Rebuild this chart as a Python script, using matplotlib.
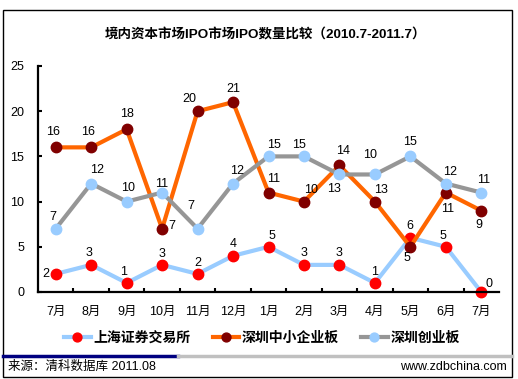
import numpy as np
import matplotlib
matplotlib.use('Agg')
import matplotlib.pyplot as plt
import matplotlib.lines as mlines
import matplotlib.patches as mpatches

plt.rcParams['font.family'] = ['Liberation Sans', 'Noto Sans CJK SC', 'DejaVu Sans']

# ---- data
months = ['7月', '8月', '9月', '10月', '11月', '12月', '1月', '2月', '3月', '4月', '5月', '6月', '7月']
sh_main = [2, 3, 1, 3, 2, 4, 5, 3, 3, 1, 6, 5, 0]
sz_sme = [16, 16, 18, 7, 20, 21, 11, 10, 14, 10, 5, 11, 9]
sz_gem = [7, 12, 10, 11, 7, 12, 15, 15, 13, 13, 15, 12, 11]
names = ['上海证券交易所', '深圳中小企业板', '深圳创业板']
title = '境内资本市场IPO市场IPO数量比较（2010.7-2011.7）'
source = '来源：清科数据库 2011.08'
site = 'www.zdbchina.com'

# label offsets in pixels (dx, dy)
off_sh = [(-10, 0), (-2, 12), (-3, 11), (0, 11), (0, 11), (0, 12), (3, 11),
          (0, 12), (0, 12), (0, 11), (0, 12), (-3, 11), (8, 8)]
off_sme = [(-3, 15), (-3, 15), (0, 15), (10, 3), (-8, 12), (0, 13), (5, 14),
           (7, 12), (4, 14), (-5, 47), (-3, -11), (2, -16), (-2, -14)]
off_gem = [(-3, 12), (6, 14), (1, 14), (0, 9), (-7, 23), (4, 13), (5, 11),
           (-5, 11), (-5, -15), (6, -16), (0, 14), (4, 12), (2, 13)]

W, H = 518, 379
fig = plt.figure(figsize=(W / 100, H / 100), dpi=100)
ax = fig.add_axes([38 / W, 1 - 292 / H, 461 / W, 226 / H])

x = np.arange(len(months))
series = [
	(sh_main, '#99CCFF', '#FF0000', off_sh),
	(sz_sme, '#FF6600', '#800000', off_sme),
	(sz_gem, '#969696', '#99CCFF', off_gem),
]
handles = []
for (vals, lc, mc, offs), name in zip(series, names):
	ln, = ax.plot(x, vals, color=lc, lw=3, marker='o', ms=7.5,
	              markerfacecolor=mc, markeredgecolor=mc, label=name, clip_on=False)
	handles.append(ln)
	for xi, v, (dx, dy) in zip(x, vals, offs):
		ax.annotate(str(v), (xi, v), xytext=(dx, dy), textcoords='offset pixels',
		            ha='center', va='center', fontsize=9, color='black')

ax.set_xlim(-0.5, len(months) - 0.5)
ax.set_ylim(0, 25)
ax.set_yticks(range(0, 26, 5))
ax.set_xticks(x)
ax.set_xticklabels(months)
ax.set_xticks(np.arange(0.5, len(months) - 1, 1), minor=True)
ax.tick_params(axis='x', which='major', length=0, pad=10, labelsize=9)
ax.tick_params(axis='x', which='minor', direction='in', length=3, width=1.5)
ax.tick_params(axis='y', direction='in', length=3, width=1.5, pad=10, labelsize=9)

for s in ['top', 'right']:
	ax.spines[s].set_visible(False)
for s in ['left', 'bottom']:
	ax.spines[s].set_linewidth(1.6)
	ax.spines[s].set_color('black')

fig.text(265 / W, 1 - 35 / H, title, ha='center', va='center', fontsize=9.7, fontweight='bold')

fig.legend(handles=handles, loc='center', bbox_to_anchor=(262 / W, 1 - 338 / H), ncol=3,
           frameon=False, prop={'weight': 'bold', 'size': 10}, handlelength=1.9,
           handletextpad=0.2, columnspacing=1.6, markerscale=0.85)

# outer frame and source strip
fig.patches.append(mpatches.Rectangle((3 / W, 1 - 377 / H), 509 / W, 367 / H, transform=fig.transFigure,
                                      fill=False, edgecolor='black', lw=1))
fig.lines.append(mlines.Line2D([3 / W, 178 / W], [1 - 356 / H] * 2, transform=fig.transFigure,
                               color='#000080', lw=2.5))
fig.lines.append(mlines.Line2D([178 / W, 512 / W], [1 - 356 / H] * 2, transform=fig.transFigure,
                               color='#C0C0C0', lw=2.5))
fig.text(8 / W, 1 - 367 / H, source, ha='left', va='center', fontsize=9)
fig.text(507 / W, 1 - 367 / H, site, ha='right', va='center', fontsize=9)

fig.savefig('out.png', dpi=100)
